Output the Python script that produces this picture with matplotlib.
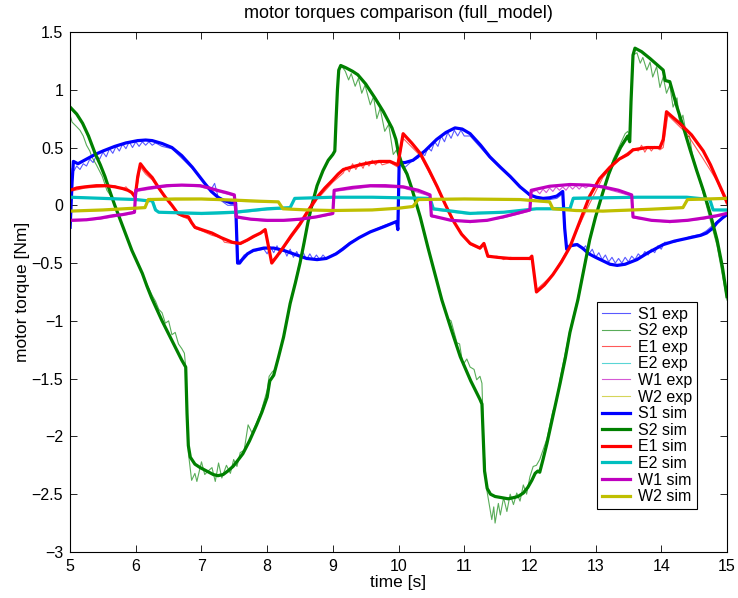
import matplotlib
matplotlib.use("Agg")
import matplotlib.pyplot as plt
from matplotlib.ticker import FuncFormatter

plt.rcParams['font.family'] = ['Liberation Sans', 'DejaVu Sans']

# (time [s], torque [Nm])
s1_exp = [(5.0, -0.22), (5.03, 0.32), (5.06, 0.3), (5.1, 0.34), (5.15, 0.31), (5.2, 0.36), (5.25, 0.34),
          (5.3, 0.4), (5.35, 0.37), (5.4, 0.43), (5.45, 0.4), (5.5, 0.46), (5.55, 0.42), (5.6, 0.49),
          (5.65, 0.45), (5.7, 0.51), (5.75, 0.47), (5.8, 0.53), (5.85, 0.49), (5.9, 0.55), (5.95, 0.5),
          (6.0, 0.55), (6.05, 0.51), (6.1, 0.55), (6.15, 0.52), (6.2, 0.55), (6.25, 0.52), (6.3, 0.54),
          (6.4, 0.51), (6.55, 0.49), (6.86, 0.32), (7.05, 0.19), (7.15, 0.14), (7.2, 0.19), (7.25, 0.08),
          (7.3, 0.04), (7.4, 0.0), (7.5, 0.0), (7.53, -0.05), (7.56, -0.48), (7.6, -0.47), (7.65, -0.43),
          (7.79, -0.4), (7.95, -0.38), (8.0, -0.42), (8.05, -0.36), (8.1, -0.41), (8.15, -0.35),
          (8.2, -0.42), (8.25, -0.37), (8.3, -0.44), (8.35, -0.38), (8.4, -0.45), (8.45, -0.4),
          (8.5, -0.46), (8.55, -0.41), (8.6, -0.47), (8.65, -0.42), (8.7, -0.47), (8.75, -0.43),
          (8.8, -0.47), (8.85, -0.43), (8.9, -0.46), (9.05, -0.41), (9.26, -0.32), (9.5, -0.25),
          (9.6, -0.22), (9.8, -0.17), (9.97, -0.14), (9.99, -0.22), (10.01, 0.35), (10.1, 0.33),
          (10.2, 0.38), (10.3, 0.41), (10.35, 0.45), (10.4, 0.43), (10.45, 0.5), (10.5, 0.47),
          (10.55, 0.55), (10.6, 0.51), (10.65, 0.6), (10.7, 0.55), (10.75, 0.63), (10.8, 0.58),
          (10.85, 0.65), (10.9, 0.6), (10.95, 0.65), (11.0, 0.6), (11.09, 0.6), (11.39, 0.41),
          (11.7, 0.24), (12.0, 0.08), (12.2, 0.04), (12.41, 0.06), (12.5, 0.1), (12.53, -0.2),
          (12.56, -0.35), (12.72, -0.33), (12.8, -0.38), (12.85, -0.35), (12.9, -0.42), (12.95, -0.38),
          (13.0, -0.45), (13.05, -0.41), (13.1, -0.47), (13.15, -0.43), (13.2, -0.49), (13.25, -0.45),
          (13.3, -0.5), (13.35, -0.46), (13.4, -0.5), (13.45, -0.45), (13.5, -0.49), (13.55, -0.44),
          (13.6, -0.47), (13.65, -0.42), (13.7, -0.45), (13.75, -0.4), (13.8, -0.43), (13.85, -0.38),
          (13.9, -0.41), (13.95, -0.35), (14.0, -0.38), (14.05, -0.32), (14.2, -0.32), (14.44, -0.27),
          (14.6, -0.25), (14.69, -0.22), (14.85, -0.14), (15.0, -0.09)]

s2_exp = [(5.0, 0.78), (5.03, 0.72), (5.1, 0.68), (5.15, 0.65), (5.2, 0.6), (5.25, 0.52), (5.3, 0.47),
          (5.33, 0.42), (5.4, 0.35), (5.49, 0.25), (5.56, 0.13), (5.62, 0.08), (5.68, 0.0), (5.84, -0.24),
          (5.94, -0.39), (6.1, -0.6), (6.2, -0.72), (6.25, -0.78), (6.3, -0.83), (6.35, -0.9), (6.4, -0.93),
          (6.45, -1.02), (6.5, -1.0), (6.55, -1.12), (6.6, -1.1), (6.65, -1.2), (6.7, -1.24), (6.74, -1.28),
          (6.76, -1.4), (6.78, -1.8), (6.8, -2.14), (6.85, -2.38), (6.9, -2.32), (6.93, -2.39),
          (7.0, -2.22), (7.05, -2.33), (7.1, -2.3), (7.16, -2.27), (7.21, -2.39), (7.26, -2.23),
          (7.31, -2.36), (7.38, -2.25), (7.44, -2.32), (7.49, -2.2), (7.54, -2.26), (7.59, -2.14),
          (7.65, -2.12), (7.71, -1.9), (7.77, -1.97), (7.84, -1.88), (7.9, -1.8), (7.95, -1.7),
          (8.0, -1.6), (8.03, -1.48), (8.08, -1.44), (8.12, -1.42), (8.18, -1.3), (8.25, -1.14),
          (8.3, -1.0), (8.35, -0.85), (8.5, -0.48), (8.6, -0.2), (8.68, 0.0), (8.76, 0.17), (8.85, 0.3),
          (8.93, 0.38), (9.0, 0.43), (9.04, 0.5), (9.07, 1.0), (9.1, 1.18), (9.14, 1.2), (9.19, 1.16),
          (9.24, 1.085), (9.28, 1.14), (9.34, 1.03), (9.39, 1.1), (9.44, 0.97), (9.49, 1.04),
          (9.57, 0.87), (9.62, 0.94), (9.67, 0.75), (9.72, 0.84), (9.79, 0.64), (9.85, 0.7),
          (9.92, 0.44), (9.97, 0.48), (10.02, 0.36), (10.13, 0.26), (10.33, -0.1), (10.59, -0.67),
          (10.66, -0.82), (10.75, -0.98), (10.8, -1.0), (10.89, -1.19), (10.93, -1.2), (10.98, -1.38),
          (11.04, -1.33), (11.09, -1.4), (11.15, -1.42), (11.19, -1.51), (11.24, -1.48), (11.27, -1.54),
          (11.3, -2.1), (11.34, -2.45), (11.37, -2.55), (11.42, -2.72), (11.45, -2.61), (11.47, -2.75),
          (11.52, -2.58), (11.55, -2.68), (11.6, -2.53), (11.65, -2.65), (11.7, -2.5), (11.75, -2.59),
          (11.8, -2.49), (11.85, -2.56), (11.9, -2.42), (11.95, -2.5), (12.0, -2.35), (12.05, -2.26),
          (12.1, -2.25), (12.15, -2.2), (12.26, -2.02), (12.35, -1.78), (12.4, -1.72), (12.46, -1.5),
          (12.61, -1.08), (12.73, -0.8), (12.91, -0.28), (13.11, 0.12), (13.27, 0.4), (13.45, 0.62),
          (13.49, 0.64), (13.52, 0.6), (13.57, 1.3), (13.63, 1.32), (13.68, 1.23), (13.72, 1.28),
          (13.78, 1.17), (13.83, 1.24), (13.87, 1.11), (13.93, 1.2), (13.98, 1.02), (14.03, 1.11),
          (14.08, 0.97), (14.13, 1.04), (14.18, 0.85), (14.24, 0.93), (14.28, 0.71), (14.33, 0.78),
          (14.39, 0.59), (14.43, 0.6), (14.47, 0.45), (14.64, 0.1), (14.85, -0.35), (15.0, -0.82)]

e1_exp = [(5.0, 0.12), (5.23, 0.15), (5.5, 0.16), (5.68, 0.17), (5.8, 0.14), (5.85, 0.16), (5.94, 0.1),
          (5.99, 0.06), (6.07, 0.33), (6.15, 0.27), (6.25, 0.22), (6.35, 0.14), (6.45, 0.06), (6.55, 0.0),
          (6.64, -0.08), (6.8, -0.12), (6.9, -0.2), (7.0, -0.22), (7.16, -0.26), (7.3, -0.28),
          (7.35, -0.32), (7.47, -0.33), (7.59, -0.34), (7.79, -0.28), (7.97, -0.22), (8.07, -0.48),
          (8.25, -0.37), (8.5, -0.18), (8.76, 0.05), (9.0, 0.2), (9.16, 0.28), (9.2, 0.33), (9.25, 0.29),
          (9.3, 0.36), (9.35, 0.31), (9.41, 0.37), (9.46, 0.32), (9.5, 0.38), (9.55, 0.34), (9.6, 0.39),
          (9.65, 0.35), (9.7, 0.39), (9.75, 0.35), (9.87, 0.37), (9.99, 0.33), (10.07, 0.58),
          (10.33, 0.43), (10.59, 0.15), (10.83, -0.14), (11.09, -0.34), (11.24, -0.38), (11.3, -0.34),
          (11.36, -0.45), (11.5, -0.44), (11.6, -0.47), (11.7, -0.45), (12.0, -0.47), (12.03, -0.45),
          (12.1, -0.73), (12.35, -0.6), (12.61, -0.35), (12.87, -0.03), (13.11, 0.24), (13.37, 0.41),
          (13.5, 0.46), (13.57, 0.49), (13.65, 0.47), (13.7, 0.52), (13.75, 0.46), (13.8, 0.51),
          (13.85, 0.47), (13.9, 0.51), (13.98, 0.48), (14.03, 0.5), (14.1, 0.78), (14.39, 0.62),
          (14.63, 0.41), (14.85, 0.21), (15.0, 0.0)]

e2_exp = [(5.0, 0.07), (5.5, 0.065), (6.0, 0.05), (6.17, 0.035), (6.22, 0.06), (6.27, 0.03), (6.32, -0.05),
          (6.35, -0.06), (7.0, -0.08), (7.5, -0.07), (8.0, -0.04), (8.35, -0.03), (8.42, 0.06), (9.0, 0.075),
          (9.6, 0.07), (10.48, 0.065), (10.53, -0.04), (11.09, -0.08), (11.2, -0.06), (11.6, -0.06),
          (12.1, -0.03), (12.61, -0.02), (12.66, 0.07), (13.63, 0.075), (14.39, 0.07), (14.74, 0.05),
          (14.79, -0.04), (15.0, -0.05)]

w1_exp = [(5.0, -0.14), (5.46, -0.12), (5.98, -0.07), (6.0, 0.12), (6.47, 0.16), (6.7, 0.17), (6.98, 0.16),
          (7.24, 0.12), (7.5, 0.08), (7.53, -0.11), (8.0, -0.14), (8.5, -0.13), (9.0, -0.08), (9.02, 0.12),
          (9.3, 0.14), (9.57, 0.16), (10.07, 0.15), (10.48, 0.08), (10.5, -0.1), (11.09, -0.15),
          (11.59, -0.11), (12.0, -0.05), (12.02, 0.11), (12.1, 0.13), (12.15, 0.1), (12.2, 0.14),
          (12.25, 0.11), (12.3, 0.15), (12.35, 0.12), (12.4, 0.16), (12.45, 0.13), (12.5, 0.16),
          (12.55, 0.13), (12.6, 0.17), (12.65, 0.14), (12.7, 0.17), (12.75, 0.14), (12.8, 0.17),
          (12.85, 0.15), (12.9, 0.17), (13.11, 0.15), (13.55, 0.08), (13.57, -0.11), (14.13, -0.15),
          (14.64, -0.12), (15.0, -0.08)]

w2_exp = [(5.0, -0.055), (5.5, -0.045), (6.14, -0.025), (6.19, 0.045), (6.5, 0.045), (7.0, 0.05),
          (7.5, 0.035), (8.17, 0.025), (8.24, -0.035), (9.0, -0.045), (9.6, -0.045), (10.22, -0.015),
          (10.3, 0.045), (11.0, 0.05), (11.85, 0.045), (12.3, 0.025), (12.35, -0.035), (13.11, -0.055),
          (14.33, -0.025), (14.4, 0.045), (15.0, 0.055)]

s1_sim = [(5.0, -0.19), (5.03, 0.2), (5.05, 0.38), (5.12, 0.36), (5.25, 0.4), (5.38, 0.44), (5.5, 0.47),
          (5.68, 0.51), (5.85, 0.54), (6.03, 0.56), (6.15, 0.565), (6.25, 0.56), (6.4, 0.535), (6.55, 0.5),
          (6.7, 0.43), (6.86, 0.33), (7.05, 0.19), (7.15, 0.12), (7.25, 0.07), (7.35, 0.04), (7.45, 0.02),
          (7.52, 0.02), (7.55, -0.5), (7.58, -0.5), (7.62, -0.47), (7.7, -0.42), (7.79, -0.39),
          (7.95, -0.37), (8.1, -0.37), (8.25, -0.39), (8.4, -0.42), (8.6, -0.46), (8.76, -0.47),
          (8.9, -0.46), (9.05, -0.42), (9.15, -0.38), (9.26, -0.33), (9.4, -0.28), (9.57, -0.23),
          (9.8, -0.18), (9.97, -0.14), (9.99, -0.21), (10.01, 0.37), (10.1, 0.37), (10.22, 0.39),
          (10.4, 0.47), (10.58, 0.57), (10.72, 0.63), (10.86, 0.67), (10.97, 0.66), (11.09, 0.62),
          (11.25, 0.52), (11.39, 0.42), (11.55, 0.33), (11.7, 0.25), (11.85, 0.16), (12.0, 0.09),
          (12.1, 0.07), (12.2, 0.06), (12.3, 0.065), (12.41, 0.08), (12.5, 0.12), (12.53, -0.2),
          (12.56, -0.38), (12.62, -0.35), (12.72, -0.34), (12.8, -0.37), (12.9, -0.42), (13.0, -0.45),
          (13.11, -0.48), (13.22, -0.51), (13.33, -0.52), (13.45, -0.51), (13.63, -0.47), (13.8, -0.41),
          (14.03, -0.34), (14.2, -0.31), (14.44, -0.28), (14.6, -0.26), (14.69, -0.24), (14.78, -0.2),
          (14.85, -0.15), (14.93, -0.11), (15.0, -0.08)]

s2_sim = [(5.0, 0.85), (5.1, 0.79), (5.19, 0.71), (5.28, 0.6), (5.38, 0.45), (5.46, 0.35), (5.53, 0.25),
          (5.6, 0.13), (5.68, 0.0), (5.76, -0.12), (5.84, -0.24), (5.94, -0.39), (6.02, -0.49),
          (6.1, -0.59), (6.17, -0.7), (6.24, -0.8), (6.32, -0.9), (6.4, -1.0), (6.48, -1.09),
          (6.55, -1.17), (6.62, -1.25), (6.7, -1.34), (6.76, -1.4), (6.78, -1.8), (6.8, -2.08),
          (6.83, -2.18), (6.9, -2.24), (6.98, -2.27), (7.08, -2.3), (7.18, -2.33), (7.25, -2.34),
          (7.33, -2.33), (7.4, -2.3), (7.48, -2.26), (7.55, -2.21), (7.63, -2.15), (7.73, -2.04),
          (7.84, -1.9), (7.92, -1.79), (8.0, -1.66), (8.04, -1.52), (8.1, -1.47), (8.17, -1.32),
          (8.25, -1.14), (8.35, -0.85), (8.43, -0.67), (8.5, -0.5), (8.56, -0.33), (8.62, -0.15),
          (8.68, 0.0), (8.76, 0.17), (8.85, 0.3), (8.93, 0.39), (9.0, 0.44), (9.03, 0.47), (9.05, 0.75),
          (9.07, 1.0), (9.09, 1.17), (9.12, 1.21), (9.2, 1.19), (9.3, 1.16), (9.38, 1.13), (9.5, 1.05),
          (9.64, 0.93), (9.77, 0.81), (9.9, 0.67), (9.96, 0.57), (10.0, 0.45), (10.05, 0.36),
          (10.13, 0.27), (10.2, 0.15), (10.33, -0.1), (10.45, -0.37), (10.59, -0.67), (10.66, -0.82),
          (10.8, -1.07), (10.94, -1.31), (11.1, -1.52), (11.24, -1.68), (11.27, -1.72), (11.29, -2.0),
          (11.31, -2.3), (11.35, -2.45), (11.4, -2.5), (11.47, -2.52), (11.57, -2.53), (11.67, -2.54),
          (11.75, -2.53), (11.82, -2.52), (11.9, -2.49), (11.97, -2.44), (12.03, -2.38), (12.08, -2.32),
          (12.12, -2.3), (12.15, -2.31), (12.2, -2.2), (12.26, -2.06), (12.36, -1.8), (12.46, -1.54),
          (12.54, -1.32), (12.61, -1.1), (12.73, -0.82), (12.82, -0.56), (12.91, -0.3), (13.0, -0.1),
          (13.11, 0.11), (13.2, 0.27), (13.27, 0.37), (13.38, 0.5), (13.49, 0.6), (13.52, 0.55),
          (13.54, 0.9), (13.57, 1.3), (13.6, 1.36), (13.7, 1.33), (13.83, 1.27), (13.95, 1.21),
          (14.03, 1.17), (14.06, 1.08), (14.13, 1.07), (14.18, 0.97), (14.24, 0.85), (14.34, 0.67),
          (14.44, 0.48), (14.54, 0.3), (14.64, 0.13), (14.75, -0.08), (14.85, -0.3), (14.93, -0.53),
          (15.0, -0.79)]

e1_sim = [(5.0, 0.13), (5.1, 0.15), (5.23, 0.16), (5.4, 0.17), (5.55, 0.17), (5.68, 0.16), (5.8, 0.145),
          (5.88, 0.13), (5.94, 0.11), (5.99, 0.07), (6.03, 0.25), (6.07, 0.36), (6.15, 0.3), (6.25, 0.24),
          (6.35, 0.15), (6.45, 0.07), (6.55, 0.0), (6.64, -0.07), (6.72, -0.09), (6.8, -0.1),
          (6.85, -0.15), (6.9, -0.19), (7.0, -0.21), (7.16, -0.24), (7.3, -0.28), (7.47, -0.32),
          (7.59, -0.33), (7.7, -0.3), (7.79, -0.27), (7.9, -0.24), (7.97, -0.21), (8.07, -0.5),
          (8.15, -0.44), (8.25, -0.36), (8.37, -0.26), (8.5, -0.16), (8.63, -0.04), (8.76, 0.07),
          (8.88, 0.15), (9.0, 0.22), (9.08, 0.27), (9.16, 0.31), (9.28, 0.33), (9.41, 0.35), (9.57, 0.37),
          (9.72, 0.38), (9.87, 0.38), (9.99, 0.35), (10.07, 0.62), (10.2, 0.54), (10.33, 0.45),
          (10.46, 0.31), (10.59, 0.16), (10.71, 0.01), (10.83, -0.13), (10.96, -0.25), (11.09, -0.33),
          (11.24, -0.37), (11.3, -0.33), (11.36, -0.44), (11.5, -0.45), (11.7, -0.46), (12.0, -0.46),
          (12.03, -0.44), (12.1, -0.75), (12.22, -0.69), (12.35, -0.6), (12.48, -0.49), (12.61, -0.36),
          (12.76, -0.14), (12.91, 0.08), (13.06, 0.23), (13.22, 0.33), (13.36, 0.4), (13.49, 0.44),
          (13.57, 0.48), (13.78, 0.5), (13.98, 0.5), (14.03, 0.57), (14.08, 0.81), (14.18, 0.76),
          (14.28, 0.71), (14.46, 0.61), (14.64, 0.47), (14.75, 0.35), (14.85, 0.22), (14.93, 0.12),
          (15.0, 0.03)]

e2_sim = [(5.0, 0.07), (5.5, 0.06), (6.0, 0.05), (6.17, 0.04), (6.25, 0.04), (6.3, -0.04), (6.35, -0.06),
          (7.0, -0.07), (7.5, -0.06), (8.0, -0.03), (8.35, -0.02), (8.42, 0.06), (9.0, 0.07), (9.6, 0.07),
          (10.48, 0.06), (10.53, -0.03), (11.09, -0.07), (11.6, -0.06), (12.1, -0.03), (12.61, -0.03),
          (12.66, 0.06), (13.63, 0.07), (14.39, 0.07), (14.74, 0.05), (14.79, -0.04), (15.0, -0.04)]

w1_sim = [(5.0, -0.13), (5.25, -0.125), (5.46, -0.11), (5.65, -0.09), (5.8, -0.08), (5.98, -0.06),
          (6.0, 0.13), (6.2, 0.15), (6.47, 0.17), (6.7, 0.175), (6.98, 0.17), (7.12, 0.15), (7.24, 0.13),
          (7.38, 0.11), (7.5, 0.09), (7.53, -0.1), (7.75, -0.12), (8.0, -0.13), (8.25, -0.13),
          (8.5, -0.12), (8.75, -0.1), (9.0, -0.07), (9.02, 0.13), (9.3, 0.155), (9.57, 0.17), (9.8, 0.17),
          (10.07, 0.16), (10.3, 0.13), (10.48, 0.09), (10.5, -0.09), (10.8, -0.13), (11.09, -0.14),
          (11.35, -0.13), (11.59, -0.1), (11.8, -0.07), (12.0, -0.04), (12.02, 0.13), (12.3, 0.165),
          (12.61, 0.18), (12.9, 0.175), (13.11, 0.16), (13.35, 0.13), (13.55, 0.09), (13.57, -0.1),
          (13.85, -0.13), (14.13, -0.14), (14.4, -0.13), (14.64, -0.11), (14.85, -0.09), (15.0, -0.07)]

w2_sim = [(5.0, -0.05), (5.5, -0.04), (6.14, -0.02), (6.19, 0.05), (6.6, 0.055), (7.0, 0.055), (7.5, 0.045),
          (7.9, 0.035), (8.17, 0.03), (8.24, -0.03), (8.6, -0.04), (9.0, -0.045), (9.6, -0.04),
          (10.0, -0.025), (10.22, -0.01), (10.3, 0.05), (11.0, 0.055), (11.85, 0.05), (12.3, 0.03),
          (12.35, -0.03), (12.7, -0.045), (13.11, -0.05), (13.8, -0.035), (14.33, -0.02), (14.4, 0.05),
          (15.0, 0.06)]

joints = ['S1', 'S2', 'E1', 'E2', 'W1', 'W2']
farben = ['#0000ff', '#008000', '#ff0000', '#00bfbf', '#bf00bf', '#bfbf00']
exp_data = [s1_exp, s2_exp, e1_exp, e2_exp, w1_exp, w2_exp]
sim_data = [s1_sim, s2_sim, e1_sim, e2_sim, w1_sim, w2_sim]

fig = plt.figure(figsize=(7.38, 5.98), dpi=100)
ax = fig.add_axes([0.095, 0.077, 0.89, 0.8695])

for name, cor, pts in zip(joints, farben, exp_data):
    t, y = zip(*pts)
    ax.plot(t, y, color=cor, lw=0.8, alpha=0.65, label=name + ' exp')
for name, cor, pts in zip(joints, farben, sim_data):
    t, y = zip(*pts)
    ax.plot(t, y, color=cor, lw=2.3, solid_joinstyle='round', label=name + ' sim')

ax.set_xlim(5, 15)
ax.set_ylim(-3, 1.5)
ax.set_xticks(range(5, 16))
ax.set_yticks([-3, -2.5, -2, -1.5, -1, -0.5, 0, 0.5, 1, 1.5])
ax.yaxis.set_major_formatter(FuncFormatter(lambda v, p: ('%g' % v).replace('-', '\u2212')))
ax.tick_params(direction='in', top=True, right=True, length=5, labelsize=11.5, width=0.6, pad=5)
for s in ax.spines.values():
    s.set_linewidth(0.8)

ax.set_xlabel('time [s]', fontsize=12.5, labelpad=1)
ax.set_ylabel('motor torque [Nm]', fontsize=12.5, labelpad=1)
ax.set_title('motor torques comparison (full_model)', fontsize=13, pad=10)

leg = ax.legend(loc='upper left', bbox_to_anchor=(0.802, 0.481), fontsize=11.5, fancybox=False,
                edgecolor='black', framealpha=1, labelspacing=0.1, handlelength=1.75,
                handletextpad=0.5, borderpad=0.3, borderaxespad=0)
leg.get_frame().set_linewidth(0.8)

plt.savefig('out.png', dpi=100)
